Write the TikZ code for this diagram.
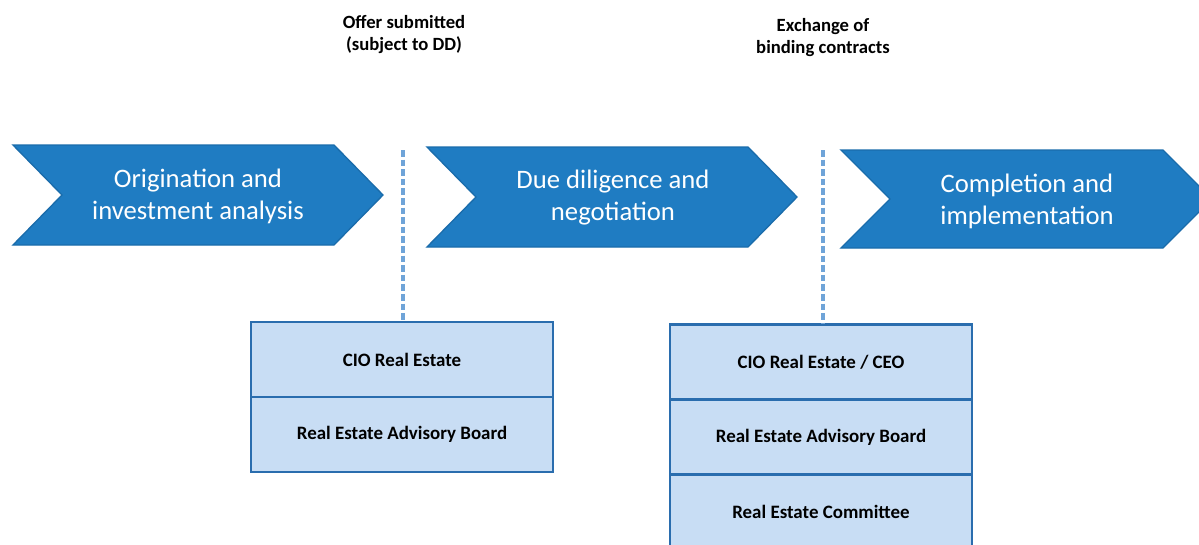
\documentclass[tikz,border=0pt]{standalone}
\usepackage{fontspec}
\setmainfont{Carlito}
\definecolor{arrowblue}{HTML}{1F7CC2}
\definecolor{arrowedge}{HTML}{1A6CAB}
\definecolor{boxfill}{HTML}{C8DDF4}
\definecolor{boxedge}{HTML}{2A6DAE}
\definecolor{dashblue}{HTML}{6FA4D8}
\begin{document}
\begin{tikzpicture}[x=0.75pt,y=-0.75pt,
  chevron/.style={fill=arrowblue,draw=arrowedge,line width=1pt,line join=miter},
  chevtext/.style={text=white,align=center,font=\fontsize{20}{24}\selectfont},
  cell/.style={draw=boxedge,fill=boxfill,line width=2.2pt,minimum width=302*0.75pt,minimum height=75*0.75pt,inner sep=0pt,font=\bfseries\fontsize{14.2}{16}\selectfont},
  milestone/.style={align=center,font=\bfseries\fontsize{14}{16.5}\selectfont},
  divider/.style={draw=dashblue,line width=2.4pt,dash pattern=on 5pt off 2.2pt}]
\useasboundingbox (0,0) rectangle (1199,544);
\fill[white] (0,0) rectangle (1199,544);
\begin{scope}
\clip (0,0) rectangle (1199,544);
% chevrons
\draw[chevron] (13,145) -- (334,145) -- (383,195) -- (334,245) -- (13,245) -- (62,195) -- cycle;
\draw[chevron] (427,147) -- (748,147) -- (797,197) -- (748,247) -- (427,247) -- (476,197) -- cycle;
\draw[chevron] (841,150) -- (1163,150) -- (1212,199) -- (1163,248) -- (841,248) -- (890,199) -- cycle;
\node[chevtext] (s1) at (198,196) {Origination and\\investment analysis};
\node[chevtext] (s2) at (613,198) {Due diligence and\\negotiation};
\node[chevtext] (s3) at (1027,201) {Completion and\\implementation};
% milestones
\node[milestone] (m1) at (404,35) {Offer submitted\\(subject to DD)};
\node[milestone] (m2) at (823,38) {Exchange of\\binding contracts};
% boxes
\node[cell] (a1) at (402,359.5) {CIO Real Estate};
\node[cell] (a2) at (402,434.5) {Real Estate Advisory Board};
\node[cell] (b1) at (821,362) {CIO Real Estate / CEO};
\node[cell] (b2) at (821,437) {Real Estate Advisory Board};
\node[cell] (b3) at (821,512) {Real Estate Committee};
% dashed dividers
\coordinate (d1) at (403,150);
\coordinate (d2) at (823,150);
\draw[divider] (d1) -- (a1.north -| d1);
\draw[divider] (d2) -- (b1.north -| d2);
\end{scope}
\end{tikzpicture}
\end{document}
